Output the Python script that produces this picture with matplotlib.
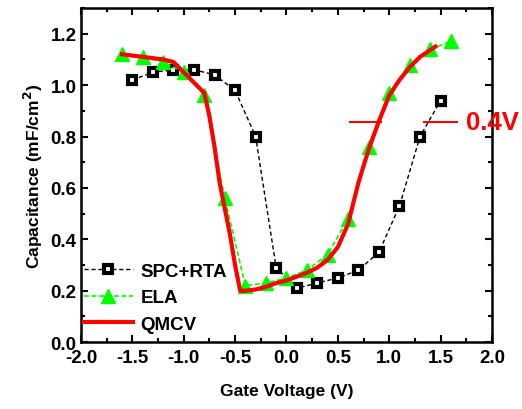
import matplotlib
matplotlib.use("Agg")
import matplotlib.pyplot as plt
from matplotlib.ticker import MultipleLocator

plt.rcParams["font.family"] = ["Liberation Sans", "DejaVu Sans"]
plt.rcParams["font.weight"] = "bold"
plt.rcParams["mathtext.default"] = "bf"

# SPC+RTA (black squares)
spc_v = [-1.5, -1.3, -1.1, -0.9, -0.7, -0.5, -0.3, -0.1, 0.1, 0.3, 0.5, 0.7, 0.9, 1.1, 1.3, 1.5]
spc_c = [1.02, 1.05, 1.06, 1.06, 1.04, 0.98, 0.80, 0.29, 0.21, 0.23, 0.25, 0.28, 0.35, 0.53, 0.80, 0.94]

# ELA (green triangles)
ela_v = [-1.6, -1.4, -1.2, -1.0, -0.8, -0.6, -0.4, -0.2, 0.0, 0.2, 0.4, 0.6, 0.8, 1.0, 1.2, 1.4, 1.6]
ela_c = [1.12, 1.11, 1.09, 1.05, 0.96, 0.56, 0.22, 0.23, 0.25, 0.28, 0.34, 0.48, 0.76, 0.97, 1.08, 1.14, 1.17]

# QMCV simulation (red line)
qm_v = [-1.6, -1.4, -1.2, -1.1, -1.0, -0.9, -0.8, -0.75, -0.7, -0.65, -0.6, -0.55, -0.5, -0.45,
        -0.4, -0.3, -0.2, -0.1, 0.0, 0.1, 0.2, 0.3, 0.4, 0.5, 0.6, 0.7, 0.8, 0.9, 1.0, 1.1,
        1.2, 1.3, 1.45]
qm_c = [1.12, 1.11, 1.10, 1.09, 1.05, 1.01, 0.97, 0.88, 0.76, 0.62, 0.52, 0.42, 0.30, 0.20,
        0.20, 0.205, 0.215, 0.23, 0.24, 0.255, 0.27, 0.29, 0.32, 0.37, 0.46, 0.62, 0.75, 0.86,
        0.96, 1.02, 1.07, 1.11, 1.15]

# 0.4 V shift marker
shift_c = 0.858
shift_left = [0.62, 0.92]
shift_right = [1.34, 1.66]

fig = plt.figure(figsize=(5.22, 4.10), dpi=100)
ax = fig.add_axes([0.155, 0.163, 0.7875, 0.815])

ax.plot(spc_v, spc_c, color="black", ls=(0, (3, 2)), lw=1.0, marker="s", ms=6,
        mfc="white", mec="black", mew=3, label="SPC+RTA")
ax.plot(ela_v, ela_c, color="#00ff00", ls=(0, (3, 1.5)), lw=1.2, marker="^", ms=10,
        mfc="#00ff00", mec="#00ff00", label="ELA")
ax.plot(qm_v, qm_c, color="red", lw=3, label="QMCV")

ax.plot(shift_left, [shift_c] * 2, color="red", lw=1.5)
ax.plot(shift_right, [shift_c] * 2, color="red", lw=1.5)
ax.text(1.75, shift_c, "0.4V", color="red", fontsize=18.5, fontweight="bold",
        va="center", ha="left", clip_on=False, zorder=10)

ax.set_xlim(-2.0, 2.0)
ax.set_ylim(0.0, 1.3)
ax.xaxis.set_major_locator(MultipleLocator(0.5))
ax.xaxis.set_minor_locator(MultipleLocator(0.25))
ax.yaxis.set_major_locator(MultipleLocator(0.2))
ax.yaxis.set_minor_locator(MultipleLocator(0.1))
ax.set_yticks([0.0, 0.2, 0.4, 0.6, 0.8, 1.0, 1.2])
ax.set_xticklabels([f"{v:.1f}" for v in ax.get_xticks()])
ax.set_yticklabels([f"{v:.1f}" for v in ax.get_yticks()])

ax.tick_params(which="both", direction="in", top=True, right=True, width=1.5,
               labelsize=13.5)
ax.tick_params(axis="x", pad=5)
ax.tick_params(axis="y", pad=3)
ax.tick_params(which="major", length=5)
ax.tick_params(which="minor", length=3)
for s in ax.spines.values():
    s.set_linewidth(1.8)

ax.set_xlabel("Gate Voltage (V)", fontsize=12.5, fontweight="bold", labelpad=12)
ax.set_ylabel("Capacitance (mF/cm$^2$)", fontsize=12.5, fontweight="bold", labelpad=4)

ax.legend(loc="lower left", bbox_to_anchor=(-0.015, 0.0), frameon=False,
          prop={"weight": "bold", "size": 13.5},
          handlelength=2.6, handletextpad=0.4, labelspacing=0.5, borderaxespad=0.1)

fig.savefig("out.png", dpi=100)
